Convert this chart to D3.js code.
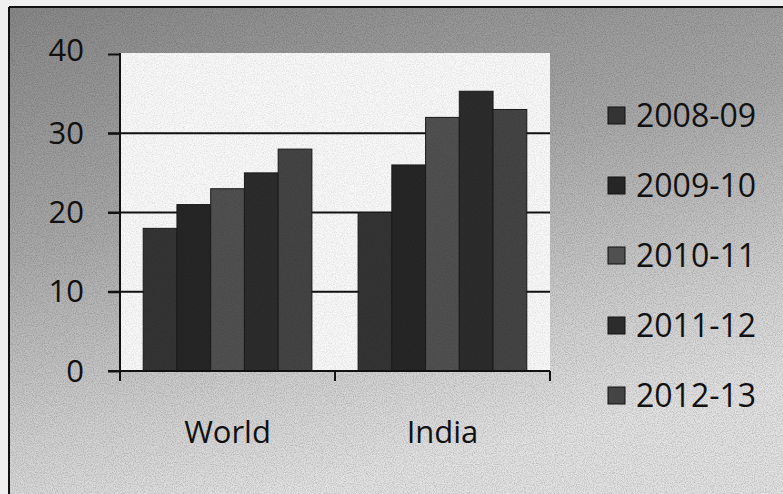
<!DOCTYPE html>
<html>
<head>
<meta charset="utf-8">
<script src="https://cdn.jsdelivr.net/npm/d3@7"></script>
<style>
  html, body { margin: 0; padding: 0; background: #efefef; }
  svg { display: block; }
</style>
</head>
<body>
<svg id="chart" width="783" height="494"></svg>
<script>
const categories = ["World", "India"];
const seriesNames = ["2008-09", "2009-10", "2010-11", "2011-12", "2012-13"];
const worldValues = [18, 21, 23, 25, 28];
const indiaValues = [20, 26, 32, 35.3, 33];
const yTicks = [0, 10, 20, 30, 40];
const seriesColors = ["#343434", "#262626", "#505050", "#2c2c2c", "#444444"];

const valuesByCategory = { World: worldValues, India: indiaValues };

const svg = d3.select("#chart");
const W = 783, H = 494;

const defs = svg.append("defs");
const grad = defs.append("linearGradient").attr("id", "bg")
  .attr("x1", "0").attr("y1", "0").attr("x2", "0.35").attr("y2", "1");
grad.append("stop").attr("offset", "0").attr("stop-color", "#888888");
grad.append("stop").attr("offset", "0.45").attr("stop-color", "#a9a9a9");
grad.append("stop").attr("offset", "0.8").attr("stop-color", "#d0d0d0");
grad.append("stop").attr("offset", "1").attr("stop-color", "#e2e2e2");

const filt = defs.append("filter").attr("id", "grain").attr("x", 0).attr("y", 0).attr("width", "100%").attr("height", "100%");
filt.append("feTurbulence").attr("type", "fractalNoise").attr("baseFrequency", "0.9").attr("numOctaves", 2).attr("seed", 3).attr("result", "n");
filt.append("feColorMatrix").attr("in", "n").attr("type", "matrix")
  .attr("values", "0 0 0 0 0  0 0 0 0 0  0 0 0 0 0  0 0 0 -1.6 1.0").attr("result", "a");
filt.append("feComposite").attr("in", "a").attr("in2", "SourceGraphic").attr("operator", "in");

// outer chart background
svg.append("rect").attr("x", 9).attr("y", 7).attr("width", W - 9).attr("height", H - 7)
  .attr("fill", "url(#bg)");
svg.append("rect").attr("x", 9).attr("y", 7).attr("width", W - 9).attr("height", H - 7)
  .attr("fill", "#000").attr("opacity", 0.22).attr("filter", "url(#grain)");
svg.append("line").attr("x1", 9).attr("x2", W).attr("y1", 7).attr("y2", 7)
  .attr("stroke", "#111").attr("stroke-width", 2);
svg.append("line").attr("x1", 9).attr("x2", 9).attr("y1", 7).attr("y2", H)
  .attr("stroke", "#111").attr("stroke-width", 2);

// plot area
const plot = { left: 120, right: 550, top: 54, bottom: 371 };
svg.append("rect").attr("x", plot.left).attr("y", 53)
  .attr("width", plot.right - plot.left).attr("height", plot.bottom - 53)
  .attr("fill", "#f8f8f8");

const y = d3.scaleLinear().domain([0, 40]).range([plot.bottom, plot.top]);
const x0 = d3.scaleBand().domain(categories).range([plot.left, plot.right])
  .paddingInner(0.215).paddingOuter(0.108);
const x1 = d3.scaleBand().domain(seriesNames).range([0, x0.bandwidth()]).padding(0);
const xTickScale = d3.scaleBand().domain(categories).range([plot.left, plot.right]);

// gridlines
svg.append("g").selectAll("line").data(yTicks.filter(d => d > 0 && d < 40)).join("line")
  .attr("x1", 108).attr("x2", plot.right)
  .attr("y1", d => y(d)).attr("y2", d => y(d))
  .attr("stroke", "#111").attr("stroke-width", 2);

// bars
const g = svg.append("g");
categories.forEach(cat => {
  g.append("g").selectAll("rect").data(valuesByCategory[cat].map((v, i) => ({ v, s: seriesNames[i], i })))
    .join("rect")
    .attr("x", d => x0(cat) + x1(d.s))
    .attr("y", d => y(d.v))
    .attr("width", x1.bandwidth())
    .attr("height", d => y(0) - y(d.v))
    .attr("fill", d => seriesColors[d.i])
    .attr("stroke", "#1a1a1a").attr("stroke-width", 1);
});
svg.append("rect").attr("x", plot.left).attr("y", 53)
  .attr("width", plot.right - plot.left).attr("height", plot.bottom - 53)
  .attr("fill", "#000").attr("opacity", 0.12).attr("filter", "url(#grain)");

// y axis
const yAxis = d3.axisLeft(y).tickValues(yTicks).tickSize(12).tickPadding(24).tickFormat(d3.format("d"));
const yg = svg.append("g").attr("transform", `translate(${plot.left},0)`).call(yAxis);
yg.select(".domain").attr("stroke", "#111").attr("stroke-width", 2)
  .attr("d", `M0,${53}V${plot.bottom + 10}`);
yg.selectAll(".tick line").attr("stroke", "#111").attr("stroke-width", 2);
yg.selectAll(".tick text").attr("fill", "#111")
  .style("font-family", "'Open Sans', sans-serif").style("font-size", "31px")
  .attr("dy", d => d === 40 ? "0.2em" : "0.33em");

// x axis
const xAxis = d3.axisBottom(xTickScale).tickSize(0).tickPadding(50);
const xg = svg.append("g").attr("transform", `translate(0,${plot.bottom})`).call(xAxis);
xg.select(".domain").remove();
xg.append("line").attr("x1", 108).attr("x2", plot.right).attr("y1", 0).attr("y2", 0)
  .attr("stroke", "#111").attr("stroke-width", 2);
const tickXs = [plot.left].concat(categories.map(c => xTickScale(c) + xTickScale.bandwidth()));
xg.selectAll(".bt").data(tickXs).join("line").attr("class", "bt")
  .attr("x1", d => d).attr("x2", d => d).attr("y1", 0).attr("y2", 10)
  .attr("stroke", "#111").attr("stroke-width", 2);
xg.selectAll(".tick text").attr("fill", "#111")
  .style("font-family", "'Open Sans', sans-serif").style("font-size", "31px");

// legend
const legend = svg.append("g");
const ly = d3.scalePoint().domain(seriesNames).range([115, 395]);
const items = legend.selectAll("g").data(seriesNames).join("g")
  .attr("transform", d => `translate(608,${ly(d)})`);
items.append("rect").attr("x", 0).attr("y", -8).attr("width", 17).attr("height", 17)
  .attr("fill", (d, i) => seriesColors[i]).attr("stroke", "#111").attr("stroke-width", 1);
items.append("text").attr("x", 28).attr("y", 0).attr("dy", "0.36em")
  .attr("fill", "#111")
  .style("font-family", "'Open Sans', sans-serif").style("font-size", "32px")
  .text(d => d);
</script>
</body>
</html>
